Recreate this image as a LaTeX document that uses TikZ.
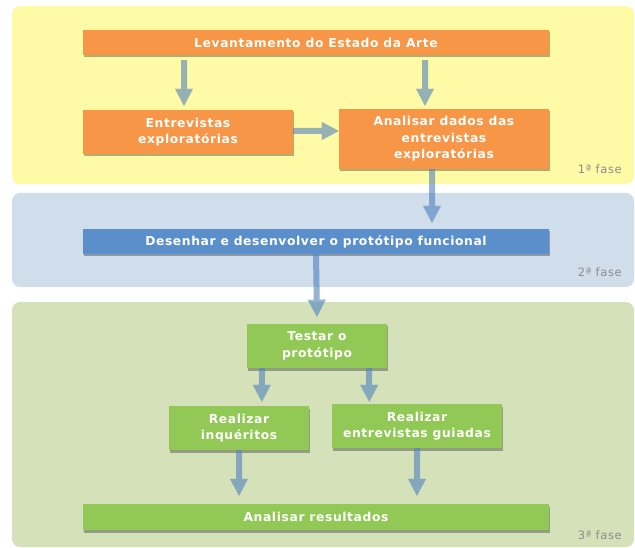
\documentclass[tikz,border=0pt]{standalone}
\usepackage{fontspec}
\setmainfont{DejaVu Sans}
\newfontfamily\boxfont[LetterSpace=5]{DejaVu Sans}
\newfontfamily\phasefont[LetterSpace=6]{DejaVu Sans}
\usetikzlibrary{arrows.meta,shadows,calc}
\definecolor{panelY}{HTML}{FFFAA6}
\definecolor{panelB}{HTML}{D0DDEB}
\definecolor{panelG}{HTML}{D5E2B9}
\definecolor{boxO}{HTML}{F79646}
\definecolor{boxB}{HTML}{5B8FCC}
\definecolor{boxG}{HTML}{92C855}
\definecolor{arrC}{HTML}{4F81BD}
\definecolor{phaseC}{HTML}{8C8C8C}
\tikzset{
  panel/.style={rounded corners=8pt, draw=none},
  stepbox/.style={draw=none, text=white, align=center, inner sep=0pt,
    font=\boxfont\fontsize{12.3}{16.5}\selectfont\bfseries,
    drop shadow={shadow xshift=1pt, shadow yshift=-2.5pt, opacity=.3, fill=black}},
  obox/.style={stepbox, fill=boxO},
  bbox/.style={stepbox, fill=boxB},
  gbox/.style={stepbox, fill=boxG},
  arr/.style={draw=arrC, line width=6pt,
    -{Triangle[width=18pt,length=17pt,line width=0.1pt,fill=arrC]}},
  phase/.style={text=phaseC, font=\phasefont\fontsize{11.5}{13}\selectfont, anchor=east, inner sep=0pt}
}
\begin{document}
\begin{tikzpicture}[x=1pt,y=-1pt]
\useasboundingbox (0,0) rectangle (635,548);
\fill[white] (0,0) rectangle (635,548);
% panels
\fill[panel, panelY] (12,6) rectangle (634,184);
\fill[panel, panelB] (12,193) rectangle (634,287);
\fill[panel, panelG] (12,302) rectangle (634,547);
\node[phase] (p1) at (622,169) {1ª fase};
\node[phase] (p2) at (622,272) {2ª fase};
\node[phase] (p3) at (622,535) {3ª fase};
% boxes
\node[obox, minimum width=466pt, minimum height=25pt] (lev) at (316,42.5) {Levantamento do Estado da Arte};
\node[obox, minimum width=210pt, minimum height=44pt] (ent) at (188,132) {Entrevistas\\exploratórias};
\node[obox, minimum width=210pt, minimum height=60pt] (ana) at (444,139) {Analisar dados das\\entrevistas\\exploratórias};
\node[bbox, minimum width=466pt, minimum height=25pt] (des) at (316,241.5) {Desenhar e desenvolver o protótipo funcional};
\node[gbox, minimum width=140pt, minimum height=44pt] (tes) at (317,346) {Testar o\\protótipo};
\node[gbox, minimum width=140pt, minimum height=44pt] (inq) at (239,428) {Realizar\\inquéritos};
\node[gbox, minimum width=170pt, minimum height=44pt] (gui) at (417,426) {Realizar\\entrevistas guiadas};
\node[gbox, minimum width=466pt, minimum height=26pt] (res) at (316,517) {Analisar resultados};
% arrows
\begin{scope}[transparency group, opacity=.6]
\draw[arr] ([xshift=-4pt,yshift=-5pt]lev.south -| ent.north) -- ([xshift=-4pt,yshift=4pt]ent.north);
\draw[arr] ([xshift=-19pt,yshift=-5pt]lev.south -| ana.north) -- ([xshift=-19pt,yshift=3pt]ana.north);
\draw[arr] ([yshift=1pt]ent.east) -- ([yshift=1pt]ent.east -| ana.west);
\draw[arr] ([xshift=-12pt]ana.south) -- ([xshift=-12pt,yshift=6pt]ana.south |- des.north);
\draw[arr] (des.south) -- ([yshift=7pt]tes.north);
\draw[arr] ([xshift=15pt]tes.south west) -- ([xshift=15pt,yshift=4pt]tes.south west |- inq.north);
\draw[arr] ([xshift=-18pt]tes.south east) -- ([xshift=-18pt,yshift=2pt]tes.south east |- gui.north);
\draw[arr] (inq.south) -- ([yshift=8pt]inq.south |- res.north);
\draw[arr] (gui.south) -- ([yshift=8pt]gui.south |- res.north);
\end{scope}
\end{tikzpicture}
\end{document}
